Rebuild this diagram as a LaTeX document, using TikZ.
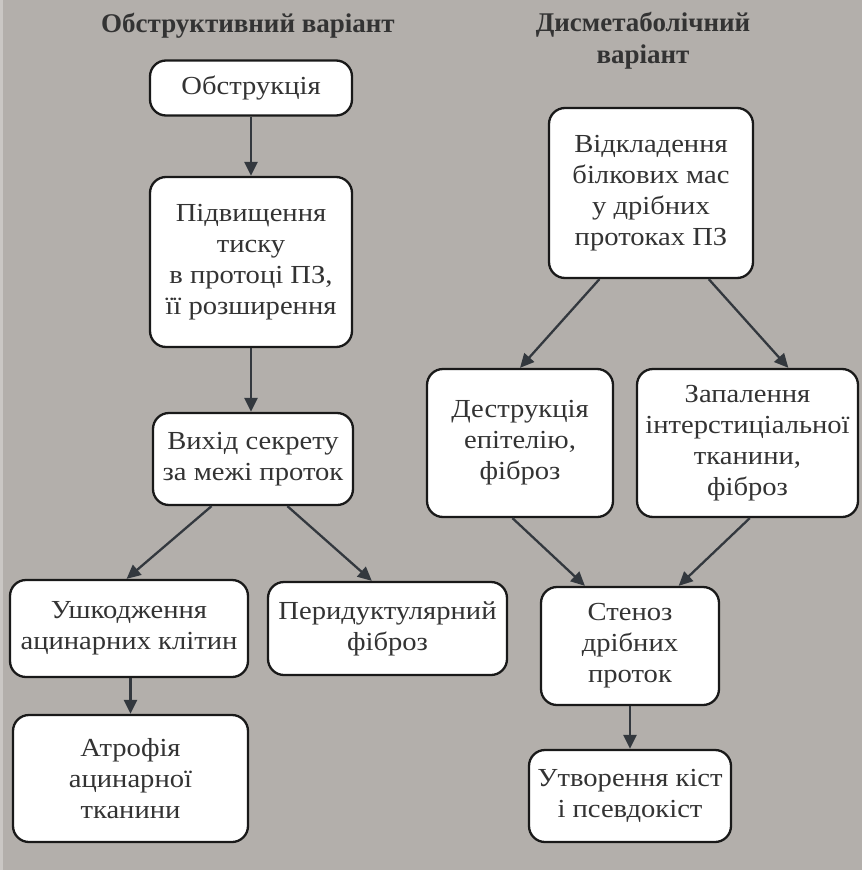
\documentclass[tikz,border=0pt]{standalone}
\usepackage{fontspec}
\setmainfont{Liberation Serif}
\newfontfamily\bodyfont{Liberation Serif}[FakeStretch=1.1]
\usetikzlibrary{arrows.meta,calc}
\definecolor{bgc}{HTML}{B3AFAB}
\definecolor{txt}{HTML}{333333}
\definecolor{arr}{HTML}{33383E}
\tikzset{
  box/.style={draw=black!90, line width=2.3pt, fill=white, rounded corners=16pt,
    align=center, text=txt, inner sep=2pt, font=\bodyfont\fontsize{26}{31}\selectfont},
  ttl/.style={align=center, text=txt, font=\fontsize{27}{32}\selectfont\bfseries},
  con/.style={draw=arr, line width=2.3pt, -{Triangle[length=14pt,width=13pt]}}
}
\begin{document}
\begin{tikzpicture}[x=1pt,y=-1pt]
\fill[bgc] (0,0) rectangle (862,870);
\fill[bgc!70!white] (0,0) rectangle (2.5,870);
\useasboundingbox (0,0) rectangle (862,870);

\node[ttl] (t1) at (248,26) {Обструктивний варіант};
\node[ttl] (t2) at (643,41) {Дисметаболічний\\варіант};

\node[box, minimum width=202pt, minimum height=55pt] (b1) at (251,88) {Обструкція};
\node[box, minimum width=202pt, minimum height=170pt] (b2) at (251,262) {Підвищення\\тиску\\в протоці ПЗ,\\її розширення};
\node[box, minimum width=200pt, minimum height=92pt] (b3) at (253,459) {Вихід секрету\\за межі проток};
\node[box, minimum width=238pt, minimum height=97pt] (b4) at (129,628.5) {Ушкодження\\ацинарних клітин};
\node[box, minimum width=239pt, minimum height=93pt] (b5) at (387.5,628.5) {Перидуктулярний\\фіброз};
\node[box, minimum width=235pt, minimum height=127pt] (b6) at (130.5,778.5) {Атрофія\\ацинарної\\тканини};

\node[box, minimum width=204pt, minimum height=170pt] (r1) at (651,193) {Відкладення\\білкових мас\\у дрібних\\протоках ПЗ};
\node[box, minimum width=186pt, minimum height=148pt] (r2) at (520,443) {Деструкція\\епітелію,\\фіброз};
\node[box, minimum width=221pt, minimum height=148pt] (r3) at (747.5,443) {Запалення\\інтерстиціальної\\тканини,\\фіброз};
\node[box, minimum width=178pt, minimum height=118pt] (r4) at (630,646) {Стеноз\\дрібних\\проток};
\node[box, minimum width=202pt, minimum height=92pt] (r5) at (630,796) {Утворення кіст\\і псевдокіст};

\draw[con] (b1.south) -- (b2.north);
\draw[con] (b2.south) -- (b2.south |- b3.north);
\draw[con] ($(b3.south west)!0.295!(b3.south east)$) -- ($(b4.north west)!0.49!(b4.north east)$);
\draw[con] ($(b3.south west)!0.67!(b3.south east)$) -- ($(b5.north west)!0.435!(b5.north east)$);
\draw[con] (b6.north |- b4.south) -- (b6.north);

\draw[con] ($(r1.south west)!0.25!(r1.south east)$) -- ($(r2.north west)!0.5!(r2.north east)$);
\draw[con] ($(r1.south west)!0.78!(r1.south east)$) -- ($(r3.north west)!0.683!(r3.north east)$);
\draw[con] ($(r2.south west)!0.46!(r2.south east)$) -- ($(r4.north west)!0.25!(r4.north east)$);
\draw[con] ($(r3.south west)!0.51!(r3.south east)$) -- ($(r4.north west)!0.77!(r4.north east)$);
\draw[con] (r4.south) -- (r5.north);
\end{tikzpicture}
\end{document}
